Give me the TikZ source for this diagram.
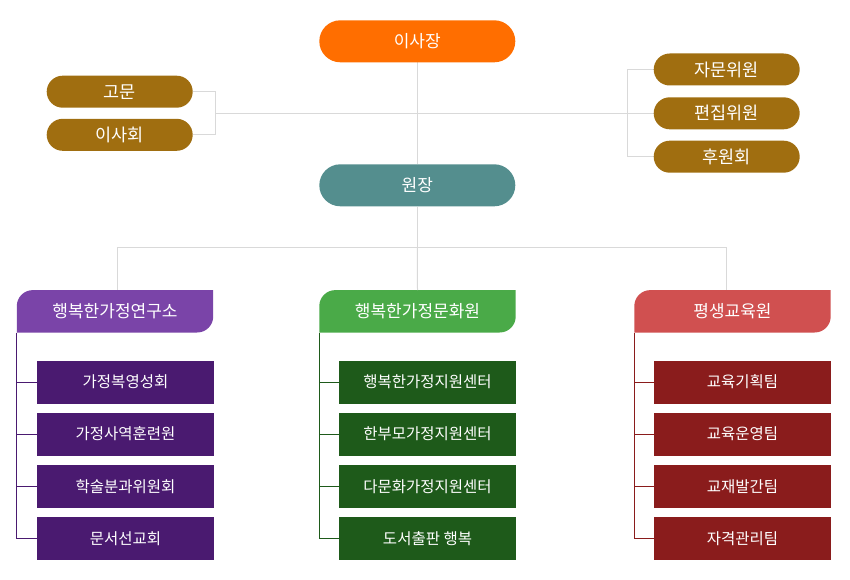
\documentclass[tikz,border=0pt]{standalone}
\usepackage{xcolor}
\usepackage{fontspec}
\setmainfont{Noto Sans CJK KR}
\usepackage{tikz}
\usetikzlibrary{calc, backgrounds}
\definecolor{chairor}{RGB}{255,110,0}
\definecolor{dirteal}{RGB}{84,142,142}
\definecolor{advbrown}{RGB}{160,110,16}
\definecolor{hdrpurple}{RGB}{122,68,168}
\definecolor{hdrgreen}{RGB}{74,170,72}
\definecolor{hdrred}{RGB}{208,80,80}
\definecolor{unitpurple}{RGB}{74,26,112}
\definecolor{unitgreen}{RGB}{30,90,26}
\definecolor{unitred}{RGB}{138,28,28}
\definecolor{linegray}{RGB}{217,217,217}
\tikzset{
  toppill/.style={rectangle, rounded corners=21pt, minimum width=196pt,
    minimum height=42pt, inner sep=0pt, text=white,
    font=\fontsize{17}{19}\selectfont},
  sidepill/.style={rectangle, rounded corners=16pt, fill=advbrown,
    minimum width=146pt, minimum height=32pt, inner sep=0pt, text=white,
    font=\fontsize{17.5}{19}\selectfont},
  hdr/.style={rectangle, minimum width=196pt, minimum height=42pt,
    inner sep=0pt, text=white, font=\fontsize{17}{19}\selectfont},
  unit/.style={rectangle, minimum width=177pt, minimum height=43pt,
    inner sep=0pt, text=white, font=\fontsize{15.5}{17}\selectfont},
  grayline/.style={line width=1pt, color=linegray},
  unitline/.style={line width=1pt}
}
% header box: round top-left and bottom-right corners only
\newcommand{\hdrfill}[2]{%
  \fill[#2] (#1.south west) -- ($(#1.north west)+(0,16)$) arc (180:270:16)
    -- (#1.north east) -- ($(#1.south east)+(0,-16)$) arc (0:90:16) -- cycle;}

\begin{document}
\begin{tikzpicture}[x=1pt, y=-1pt]
  \useasboundingbox (0,0) rectangle (850,580);

  % top level
  \node[toppill, fill=chairor] (chair) at (417.3,41.3) {이사장};
  \node[toppill, fill=dirteal] (dir) at (417.3,185.3) {원장};
  \node[sidepill] (adv) at (119.7,91.7) {고문};
  \node[sidepill] (board) at (119.7,134.8) {이사회};
  \node[sidepill] (com) at (726.7,69.5) {자문위원};
  \node[sidepill] (edit) at (726.7,113.3) {편집위원};
  \node[sidepill] (spon) at (726.7,156.7) {후원회};

  \coordinate (lb) at (215.3,113.3);
  \coordinate (rb) at (627.3,113.3);
  \coordinate (hub) at (417.3,247);
  \coordinate (jl) at (117,247);
  \coordinate (jr) at (726,247);

  % divisions
  \node[hdr] (hL) at (115,311.3) {행복한가정연구소};
  \node[hdr] (hM) at (417.5,311.3) {행복한가정문화원};
  \node[hdr] (hR) at (732.5,311.3) {평생교육원};
  \begin{scope}[on background layer]
    \hdrfill{hL}{hdrpurple}
    \hdrfill{hM}{hdrgreen}
    \hdrfill{hR}{hdrred}
  \end{scope}

  \node[unit, fill=unitpurple] (uL1) at (125.5,382) {가정복영성회};
  \node[unit, fill=unitpurple] (uL2) at (125.5,434) {가정사역훈련원};
  \node[unit, fill=unitpurple] (uL3) at (125.5,486.3) {학술분과위원회};
  \node[unit, fill=unitpurple] (uL4) at (125.5,538.3) {문서선교회};

  \node[unit, fill=unitgreen] (uM1) at (427.5,382) {행복한가정지원센터};
  \node[unit, fill=unitgreen] (uM2) at (427.5,434) {한부모가정지원센터};
  \node[unit, fill=unitgreen] (uM3) at (427.5,486.3) {다문화가정지원센터};
  \node[unit, fill=unitgreen] (uM4) at (427.5,538.3) {도서출판 행복};

  \node[unit, fill=unitred] (uR1) at (742.5,382) {교육기획팀};
  \node[unit, fill=unitred] (uR2) at (742.5,434) {교육운영팀};
  \node[unit, fill=unitred] (uR3) at (742.5,486.3) {교재발간팀};
  \node[unit, fill=unitred] (uR4) at (742.5,538.3) {자격관리팀};

  % gray connectors
  \begin{scope}[on background layer]
    \draw[grayline] (chair.south) -- (dir.north);
    \draw[grayline] (dir.south) -- (hub);
    \draw[grayline] (adv.east) -| (lb) |- (board.east);
    \draw[grayline] (lb) -- (rb);
    \draw[grayline] (com.west) -| (rb) |- (spon.west);
    \draw[grayline] (rb) -- (edit.west);
    \draw[grayline] (jl) -- (jr);
    \draw[grayline] (jl) -- (jl |- hL.north);
    \draw[grayline] (hub) -- (hM.north);
    \draw[grayline] (jr) -- (jr |- hR.north);
  \end{scope}

  % unit connectors
  \draw[unitline, unitpurple] (hL.south west) |- (uL4.west);
  \draw[unitline, unitpurple] (hL.south west |- uL1.west) -- (uL1.west);
  \draw[unitline, unitpurple] (hL.south west |- uL2.west) -- (uL2.west);
  \draw[unitline, unitpurple] (hL.south west |- uL3.west) -- (uL3.west);

  \draw[unitline, unitgreen] (hM.south west) |- (uM4.west);
  \draw[unitline, unitgreen] (hM.south west |- uM1.west) -- (uM1.west);
  \draw[unitline, unitgreen] (hM.south west |- uM2.west) -- (uM2.west);
  \draw[unitline, unitgreen] (hM.south west |- uM3.west) -- (uM3.west);

  \draw[unitline, unitred] (hR.south west) |- (uR4.west);
  \draw[unitline, unitred] (hR.south west |- uR1.west) -- (uR1.west);
  \draw[unitline, unitred] (hR.south west |- uR2.west) -- (uR2.west);
  \draw[unitline, unitred] (hR.south west |- uR3.west) -- (uR3.west);
\end{tikzpicture}
\end{document}
